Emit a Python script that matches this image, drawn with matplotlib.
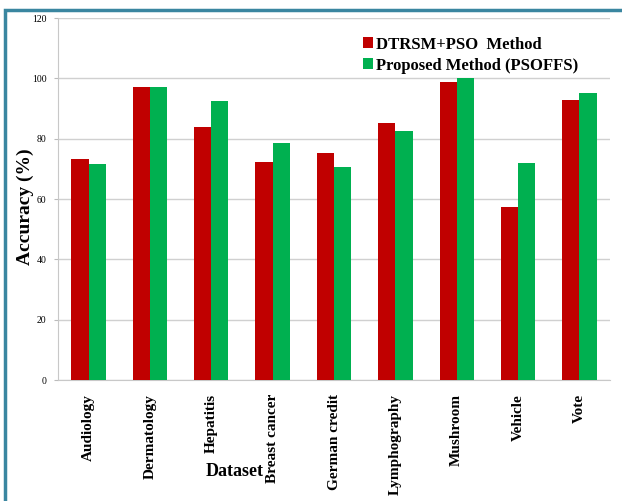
import numpy as np
import matplotlib
matplotlib.use("Agg")
import matplotlib.pyplot as plt
from matplotlib.patches import Rectangle

datasets = ["Audiology", "Dermatology", "Hepatitis", "Breast cancer", "German credit",
            "Lymphography", "Mushroom", "Vehicle", "Vote"]
dtrsm_pso = [73.2, 97.2, 83.9, 72.3, 75.1, 85.1, 98.9, 57.2, 92.8]
psoffs = [71.6, 97.2, 92.6, 78.6, 70.7, 82.4, 100.0, 72.0, 95.2]
y_ticks = [0, 20, 40, 60, 80, 100, 120]

serif = ["Liberation Serif", "DejaVu Serif"]

fig = plt.figure(figsize=(6.22, 5.01), dpi=100)
ax = fig.add_axes([0.093, 0.2415, 0.888, 0.7225])

x = np.arange(len(datasets))
w = 0.28
ax.bar(x - w / 2, dtrsm_pso, w, color="#C00000", label="DTRSM+PSO  Method", zorder=3)
ax.bar(x + w / 2, psoffs, w, color="#00B050", label="Proposed Method (PSOFFS)", zorder=3)

ax.set_xlim(-0.5, len(datasets) - 0.5)
ax.set_ylim(0, 120)
ax.set_yticks(y_ticks)
ax.set_yticklabels([str(v) for v in y_ticks], fontfamily=serif, fontsize=7)
ax.set_xticks(x)
ax.set_xticklabels(datasets, rotation=90, fontfamily=serif, fontsize=11,
                   fontweight="bold")
ax.tick_params(axis="x", length=0, pad=10)
ax.tick_params(axis="y", length=3, color="#bbbbbb", pad=5)
ax.grid(axis="y", color="#d0d0d0", linewidth=1, zorder=0)
for s in ["top", "right"]:
    ax.spines[s].set_visible(False)
ax.spines["left"].set_color("#c8c8c8")
ax.spines["bottom"].set_color("#c8c8c8")

fig.text(25 / 622, 1 - 207 / 501, "Accuracy (%)", fontfamily=serif, fontsize=14,
         fontweight="bold", rotation=90, ha="center", va="center")
fig.text(0.378, 0.058, "Dataset", fontfamily=serif, fontsize=13, fontweight="bold",
         ha="center", va="center")

leg = ax.legend(loc="upper right", bbox_to_anchor=(0.97, 0.99), frameon=False,
                prop={"family": serif, "size": 12, "weight": "bold"},
                handlelength=0.6, handleheight=0.6, handletextpad=0.2, labelspacing=0.3)

# outer blue frame
fig.patches.append(Rectangle((5 / 622, -0.05), 1.2, 1 - 10.5 / 501 + 0.05,
                             transform=fig.transFigure, fill=False,
                             edgecolor="#3a86a0", linewidth=2.5, zorder=0))

fig.savefig("out.png", dpi=100)
